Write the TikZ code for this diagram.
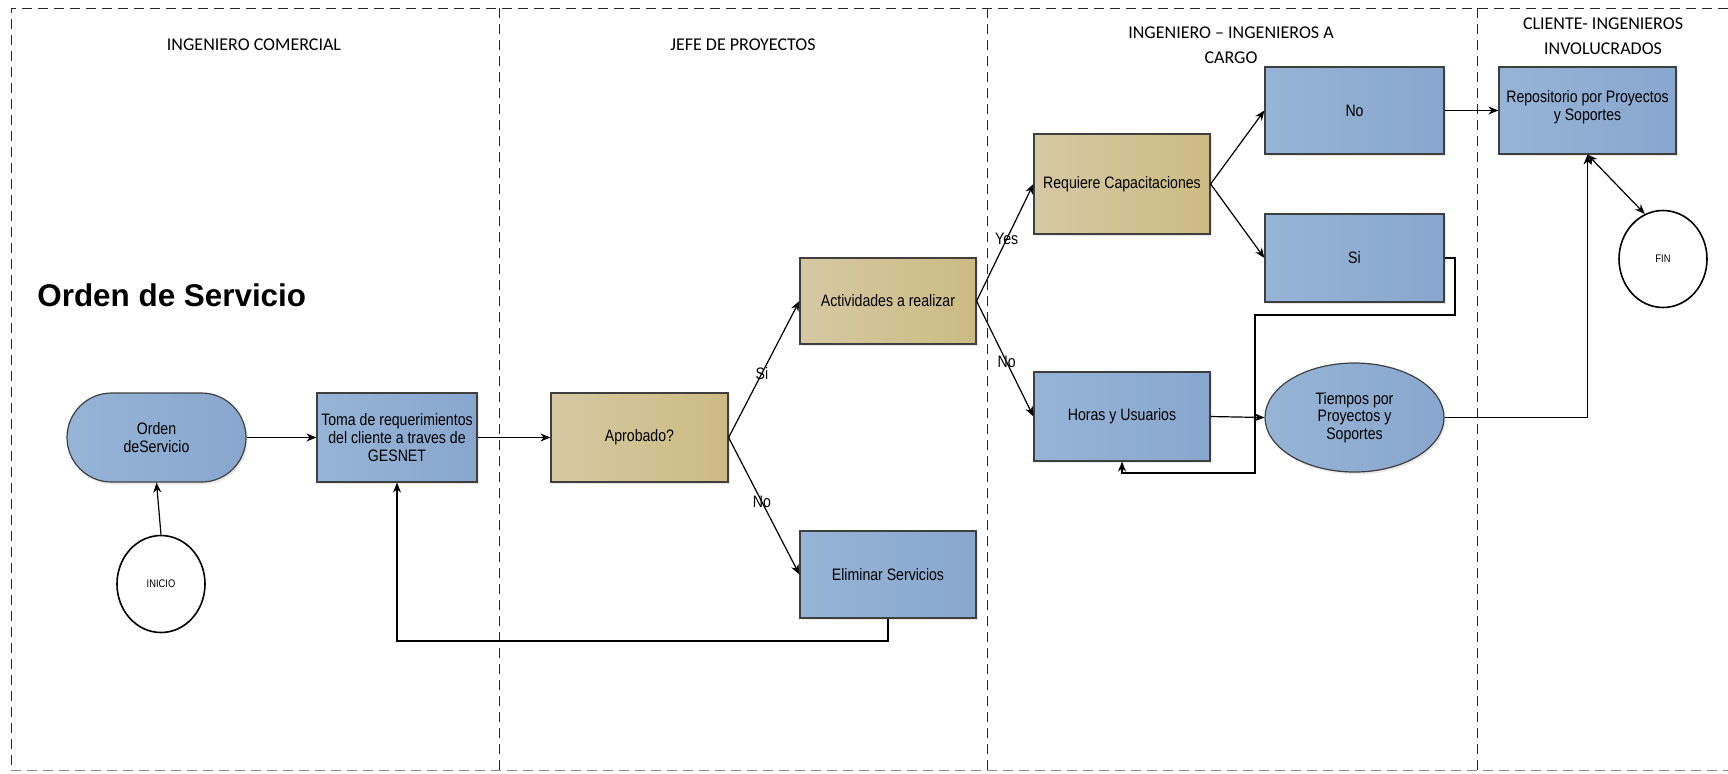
\documentclass[tikz,border=0pt]{standalone}
\usepackage{fontspec}
\setmainfont{Liberation Sans}[FakeStretch=0.85]
\newfontfamily\titlefont{Liberation Sans}
\newfontfamily\lanefont{Carlito}
\usetikzlibrary{shapes.misc,shapes.geometric,arrows.meta,shadows}
\definecolor{bordc}{HTML}{3F3F3F}
\definecolor{blueL}{HTML}{95B4D6}
\definecolor{blueR}{HTML}{89A7CE}
\definecolor{tanL}{HTML}{D5C9A3}
\definecolor{tanR}{HTML}{CCBB83}
\tikzset{
  boxfont/.style={font=\fontsize{8.3}{8.8}\selectfont},
  box/.style={draw=bordc, line width=0.6pt, inner sep=0pt, align=center, boxfont,
    drop shadow={shadow xshift=0.8pt, shadow yshift=-1.2pt, opacity=0.18}},
  bluebox/.style={box, left color=blueL, right color=blueR},
  tanbox/.style={box, left color=tanL, right color=tanR},
  endcirc/.style={draw=black, line width=0.8pt, ellipse, fill=white, inner sep=0pt,
    minimum width=44pt, minimum height=48.5pt, font=\fontsize{5.5}{6}\selectfont},
  arr/.style={-{Stealth[length=5pt,width=4pt]}, line width=0.6pt},
  darr/.style={{Stealth[length=5pt,width=4pt]}-{Stealth[length=5pt,width=4pt]}, line width=0.6pt},
  lane/.style={font=\lanefont\fontsize{9}{12.5}\selectfont, align=center},
  lanebord/.style={dashed, dash pattern=on 5pt off 3pt, line width=0.5pt, draw=black!85},
  lbl/.style={boxfont, inner sep=0pt}
}
\begin{document}
\begin{tikzpicture}[x=0.5pt, y=-0.5pt]
\useasboundingbox (0,0) rectangle (1728,773);
% frame
\coordinate (ftr) at (1728,8);
\coordinate (ftl) at (11,8);
\coordinate (fbl) at (11,770);
\coordinate (fbr) at (1728,770);
\draw[lanebord] (ftr) -- (ftl) -- (fbl);
\draw[lanebord, draw=black!45] (fbl) -- (fbr);
% dividers
\foreach \xx in {499,987,1477} {
  \draw[lanebord] (\xx,8) -- (\xx,770);
}
% lane titles
\node[lane] (t1) at (254,45) {INGENIERO COMERCIAL};
\node[lane] (t2) at (743,45) {JEFE DE PROYECTOS};
\node[lane] (t3) at (1231,45.5) {INGENIERO – INGENIEROS A\\CARGO};
\node[lane] (t4) at (1603,36) {CLIENTE- INGENIEROS\\INVOLUCRADOS};
% main title
\node[anchor=west, inner sep=0pt, font=\titlefont\fontsize{15.7}{18}\selectfont\bfseries] (title) at (37,295) {Orden de Servicio};

% nodes
\node[bluebox, rounded rectangle, minimum width=89.5pt, minimum height=44.5pt] (orden) at (156.5,437.5) {Orden\\deServicio};
\node[endcirc] (inicio) at (161,584) {INICIO};
\node[bluebox, rectangle, minimum width=80pt, minimum height=44.5pt] (toma) at (397,437.5) {Toma de requerimientos\\del cliente a traves de\\GESNET};
\node[tanbox, rectangle, minimum width=88.5pt, minimum height=44.5pt] (aprob) at (639.5,437.5) {Aprobado?};
\node[tanbox, rectangle, minimum width=88pt, minimum height=43pt] (activ) at (888,301) {Actividades a realizar};
\node[bluebox, rectangle, minimum width=88pt, minimum height=43.5pt] (elim) at (888,574.5) {Eliminar Servicios};
\node[tanbox, rectangle, minimum width=88pt, minimum height=50pt] (req) at (1122,184) {Requiere Capacitaciones};
\node[bluebox, rectangle, minimum width=88pt, minimum height=44.5pt] (horas) at (1122,416.5) {Horas y Usuarios};
\node[bluebox, rectangle, minimum width=89.5pt, minimum height=43.5pt] (no) at (1354.5,110.5) {No};
\node[bluebox, rectangle, minimum width=89.5pt, minimum height=44pt] (si) at (1354.5,258) {Si};
\node[bluebox, ellipse, minimum width=89.5pt, minimum height=54.5pt] (tiempos) at (1354.5,417.5) {Tiempos por\\Proyectos y\\Soportes};
\node[bluebox, rectangle, minimum width=88.5pt, minimum height=43.5pt, text depth=5pt] (repo) at (1587.5,110.5) {Repositorio por Proyectos\\y Soportes};
\node[endcirc] (fin) at (1663,259) {FIN};

% connectors
\draw[arr] (inicio.north) -- (orden.south);
\draw[arr] (orden.east) -- (toma.west);
\draw[arr] (toma.east) -- (aprob.west);
\draw[arr] (aprob.east) -- node[lbl, pos=0.47] (lsi) {Si} (activ.west);
\draw[arr] (aprob.east) -- node[lbl, pos=0.47] (lno) {No} (elim.west);
\coordinate (e1) at (888,641);
\draw[arr] (elim.south) -- (e1) -| (toma.south);
\draw[arr] (activ.east) -- node[lbl, pos=0.53] (lyes) {Yes} (req.west);
\draw[arr] (activ.east) -- node[lbl, pos=0.53] (lno2) {No} (horas.west);
\draw[arr] (req.east) -- (no.west);
\draw[arr] (req.east) -- (si.west);
\draw[arr] (horas.east) -- (tiempos.west);
\coordinate (s1) at (1455,258);
\coordinate (s2) at (1455,315);
\coordinate (s3) at (1255,315);
\coordinate (s4) at (1255,473);
\draw[arr] (si.east) -- (s1) -- (s2) -- (s3) -- (s4) -| (horas.south);
\draw[arr] (no.east) -- (repo.west);
\draw[arr] (tiempos.east) -| (repo.south);
\draw[darr] (repo.south) -- (fin.112);
\end{tikzpicture}
\end{document}
